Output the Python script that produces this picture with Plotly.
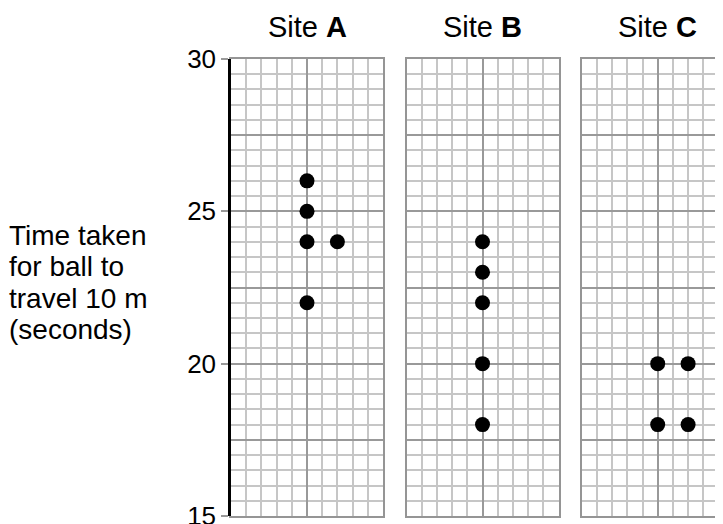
import plotly.graph_objects as go

# ---- data ----
sites = ["A", "B", "C"]
site_a_x = [5, 5, 5, 7, 5]
site_a_y = [26, 25, 24, 24, 22]
site_b_x = [5, 5, 5, 5, 5]
site_b_y = [24, 23, 22, 20, 18]
site_c_x = [5, 7, 5, 7]
site_c_y = [20, 20, 18, 18]
y_tick_vals = [15, 20, 25, 30]
y_tick_text = ["15", "20", "25", "30"]
label_lines = ["Time taken", "for ball to", "travel 10 m", "(seconds)"]

W, H = 740, 524
OFF = 8  # page body offset
MT = 59.3 - OFF
MB = H - (515.7 - OFF)
PLOT_H = H - MT - MB
FONT = "Liberation Sans, Arial, sans-serif"
MINOR = "#c6c6c6"
MAJOR = "#999999"
BORDER = "#959595"
CELL = 15.2

fig = go.Figure()

dot = dict(color="black", size=15)
fig.add_trace(go.Scatter(x=site_a_x, y=site_a_y, mode="markers", marker=dot,
                         xaxis="x", yaxis="y", showlegend=False, hoverinfo="skip"))
fig.add_trace(go.Scatter(x=site_b_x, y=site_b_y, mode="markers", marker=dot,
                         xaxis="x2", yaxis="y2", showlegend=False, hoverinfo="skip"))
fig.add_trace(go.Scatter(x=site_c_x, y=site_c_y, mode="markers", marker=dot,
                         xaxis="x3", yaxis="y3", showlegend=False, hoverinfo="skip"))
# empty trace so the labelled left axis of panel A is drawn
fig.add_trace(go.Scatter(x=[], y=[], mode="markers", xaxis="x", yaxis="y4",
                         showlegend=False, hoverinfo="skip"))

lefts = [231 - OFF, 406.5 - OFF, 581.7 - OFF]
domains = [[l / W, (l + 10 * CELL) / W] for l in lefts]

layout = dict(
    width=W, height=H,
    margin=dict(l=0, r=0, t=MT, b=MB),
    paper_bgcolor="white", plot_bgcolor="rgba(0,0,0,0)",
    font=dict(family=FONT, color="black"),
)

for i in range(3):
    sfx = "" if i == 0 else str(i + 1)
    layout["xaxis" + sfx] = dict(
        domain=domains[i], range=[0, 10], anchor="y" + sfx,
        tickmode="linear", tick0=5, dtick=10, showticklabels=False, ticks="",
        showgrid=True, gridcolor=MAJOR, gridwidth=2, zeroline=False,
        minor=dict(tickmode="linear", dtick=1, tick0=0, showgrid=True,
                   gridcolor=MINOR, gridwidth=1.6, ticks=""),
        showline=True, mirror=True, linecolor=BORDER, linewidth=2,
        fixedrange=True,
    )
    layout["yaxis" + sfx] = dict(
        range=[15, 30], anchor="x" + sfx,
        tickmode="linear", tick0=15, dtick=2.5, showticklabels=False, ticks="",
        showgrid=True, gridcolor=MAJOR, gridwidth=2, zeroline=False,
        minor=dict(tickmode="linear", dtick=0.5, tick0=15, showgrid=True,
                   gridcolor=MINOR, gridwidth=1.6, ticks=""),
        showline=True, mirror=True, linecolor=BORDER, linewidth=2,
        fixedrange=True,
    )

layout["yaxis4"] = dict(
    overlaying="y", anchor="x", side="left", range=[15, 30],
    tickmode="array", tickvals=y_tick_vals, ticktext=y_tick_text,
    ticks="outside", ticklen=7, tickwidth=2, tickcolor=MAJOR,
    tickfont=dict(size=26, family=FONT, color="black"),
    showgrid=False, zeroline=False,
    showline=True, linecolor="black", linewidth=2.5, fixedrange=True,
)

annotations = []
for i, s in enumerate(sites):
    cx = (lefts[i] + 5 * CELL) / W
    annotations.append(dict(
        x=cx, y=1 + (MT - (27 - OFF)) / PLOT_H, xref="paper", yref="paper",
        text="Site <b>%s</b>" % s, showarrow=False, xanchor="center", yanchor="middle",
        font=dict(size=29, family=FONT, color="black"),
    ))

line_centers = [236, 267, 298, 329]
for txt, py in zip(label_lines, line_centers):
    annotations.append(dict(
        x=(10 - OFF) / W, y=1 - (py - OFF - MT) / PLOT_H, xref="paper", yref="paper",
        text=txt, showarrow=False, xanchor="left", yanchor="middle", xshift=-3,
        font=dict(size=28, family=FONT, color="black"),
    ))

layout["annotations"] = annotations
fig.update_layout(**layout)
fig.write_html("out.html")
